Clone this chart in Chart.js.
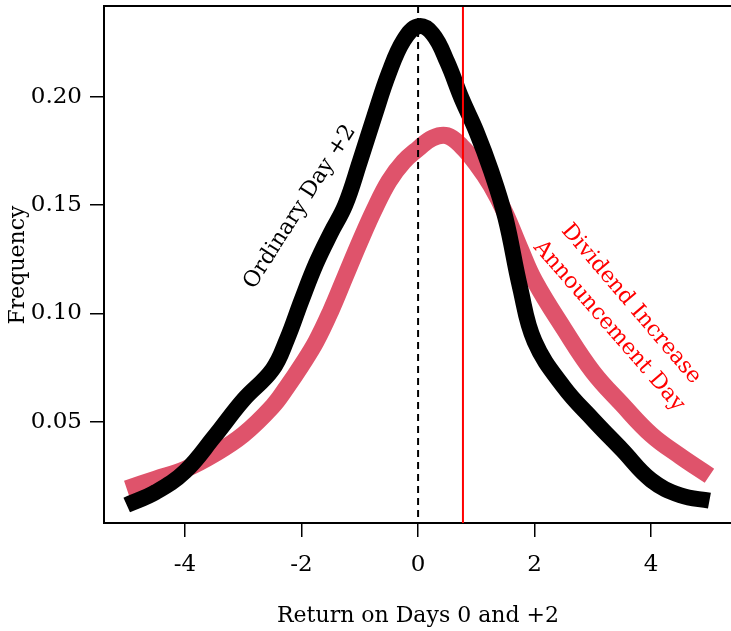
<!DOCTYPE html>
<html>
<head>
<meta charset="utf-8">
<script src="https://cdn.jsdelivr.net/npm/chart.js@4.4.1/dist/chart.umd.min.js"></script>
<style>
  html, body { margin: 0; padding: 0; background: #fff; }
  #wrap { width: 731px; height: 631px; }
</style>
</head>
<body>
<div id="wrap"><canvas id="myChart" width="731" height="631"></canvas></div>
<script>
const ctx = document.getElementById('myChart').getContext('2d');

// values
const returns = [-5.0, -4.5, -4.0, -3.5, -3.0, -2.5, -2.25, -2.0, -1.75, -1.5, -1.25, -1.0, -0.75, -0.5, -0.25, 0.0,
                 0.25, 0.5, 0.75, 1.0, 1.25, 1.5, 1.75, 2.0, 2.5, 3.0, 3.5, 4.0, 4.5, 5.0];
const ordinaryDay = [0.0115, 0.0175, 0.027, 0.043, 0.060, 0.074, 0.088, 0.106, 0.123, 0.137, 0.150, 0.170, 0.191, 0.211, 0.226, 0.2325,
                     0.229, 0.216, 0.199, 0.184, 0.166, 0.144, 0.112, 0.087, 0.066, 0.051, 0.037, 0.023, 0.016, 0.0135];
const dividendDay = [0.019, 0.0235, 0.028, 0.035, 0.044, 0.057, 0.066, 0.076, 0.087, 0.101, 0.117, 0.133, 0.148, 0.161, 0.170, 0.176,
                     0.181, 0.182, 0.177, 0.169, 0.159, 0.146, 0.130, 0.115, 0.093, 0.073, 0.058, 0.044, 0.034, 0.025];
const xTicks = [-4, -2, 0, 2, 4];
const yTicks = [0.05, 0.10, 0.15, 0.20];
const announceX = 0.77;

const serif = "'DejaVu Serif', serif";

const toPts = (ys) => returns.map((x, i) => ({x: x, y: ys[i]}));

const extras = {
  id: 'extras',
  afterDatasetsDraw(chart) {
    const c = chart.ctx;
    const a = chart.chartArea;
    const xs = chart.scales.x;
    c.save();
    // dashed line at zero
    c.strokeStyle = '#000';
    c.lineWidth = 2;
    c.setLineDash([7, 5]);
    c.beginPath();
    c.moveTo(xs.getPixelForValue(0), a.top);
    c.lineTo(xs.getPixelForValue(0), a.bottom);
    c.stroke();
    c.setLineDash([]);
    // red announcement line
    c.strokeStyle = '#ff0000';
    c.lineWidth = 2;
    c.beginPath();
    c.moveTo(xs.getPixelForValue(announceX), a.top);
    c.lineTo(xs.getPixelForValue(announceX), a.bottom);
    c.stroke();
    // top of the box
    c.strokeStyle = '#000';
    c.lineWidth = 2;
    c.beginPath();
    c.moveTo(a.left, a.top);
    c.lineTo(a.right, a.top);
    c.stroke();

    c.font = '22px ' + serif;
    c.textAlign = 'center';
    c.textBaseline = 'middle';
    // curve labels
    c.fillStyle = '#000';
    c.save();
    c.translate(300, 207);
    c.rotate(-57.5 * Math.PI / 180);
    c.fillText('Ordinary Day +2', 0, 0);
    c.restore();

    c.fillStyle = '#ff0000';
    c.save();
    c.translate(631, 304);
    c.rotate(49.5 * Math.PI / 180);
    c.fillText('Dividend Increase', 0, 0);
    c.restore();
    c.save();
    c.translate(609, 326);
    c.rotate(49 * Math.PI / 180);
    c.fillText('Announcement Day', 0, 0);
    c.restore();

    // axis titles
    c.fillStyle = '#000';
    c.fillText('Return on Days 0 and +2', 418, 616);
    c.save();
    c.translate(18, 265);
    c.rotate(-Math.PI / 2);
    c.fillText('Frequency', 0, 0);
    c.restore();
    c.restore();
  }
};

const myChart = new Chart(ctx, {
  type: 'line',
  data: {
    datasets: [{
      label: 'Ordinary Day +2',
      data: toPts(ordinaryDay),
      borderColor: '#000000',
      borderWidth: 16,
      pointRadius: 0,
      tension: 0.4,
      fill: false,
    }, {
      label: 'Dividend Increase Announcement Day',
      data: toPts(dividendDay),
      borderColor: '#DF536B',
      borderWidth: 17,
      pointRadius: 0,
      tension: 0.4,
      fill: false,
    }]
  },
  options: {
    responsive: false,
    animation: false,
    devicePixelRatio: 1,
    layout: {
      padding: {top: 6, right: 0, left: 0, bottom: 0}
    },
    plugins: {
      legend: {display: false},
      tooltip: {enabled: false},
    },
    scales: {
      x: {
        type: 'linear',
        min: -5.39,
        max: 5.37,
        afterBuildTicks: (axis) => { axis.ticks = xTicks.map(v => ({value: v})); },
        afterFit: (axis) => { axis.height = 108; axis.paddingLeft = 0; axis.paddingRight = 0; },
        ticks: {
          color: '#000',
          padding: 14,
          font: {family: serif, size: 23},
          callback: (v) => String(v),
        },
        grid: {
          drawOnChartArea: false,
          drawTicks: true,
          tickLength: 14,
          color: '#000',
          lineWidth: 1.5,
        },
        border: {display: true, color: '#000', width: 2},
      },
      y: {
        min: 0.0032,
        max: 0.2419,
        afterBuildTicks: (axis) => { axis.ticks = yTicks.map(v => ({value: v})); },
        afterFit: (axis) => { axis.width = 104; axis.paddingTop = 0; axis.paddingBottom = 0; },
        ticks: {
          color: '#000',
          padding: 8,
          font: {family: serif, size: 23},
          callback: (v) => v.toFixed(2),
        },
        grid: {
          drawOnChartArea: false,
          drawTicks: true,
          tickLength: 14,
          color: '#000',
          lineWidth: 1.5,
        },
        border: {display: true, color: '#000', width: 2},
      }
    }
  },
  plugins: [extras]
});
</script>
</body>
</html>
